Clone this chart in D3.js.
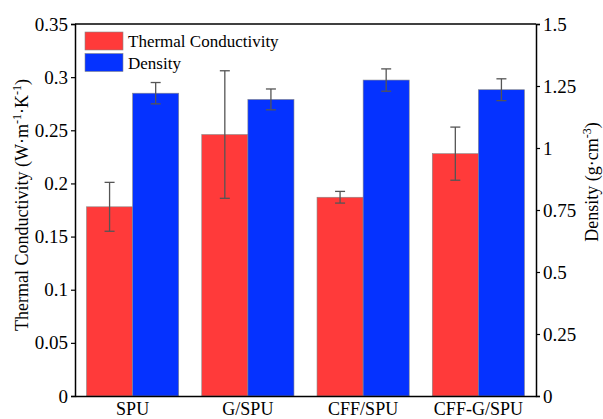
<!DOCTYPE html>
<html>
<head>
<meta charset="utf-8">
<script src="https://cdn.jsdelivr.net/npm/d3@7"></script>
<style>
  body { margin: 0; background: #fff; }
  text { font-family: "Liberation Serif", "Times New Roman", serif; fill: #000; }
</style>
</head>
<body>
<script>
// data
var categories = ["SPU", "G/SPU", "CFF/SPU", "CFF-G/SPU"];
var conductivity = [0.178, 0.246, 0.187, 0.228];
var conductivityErr = [0.023, 0.060, 0.0055, 0.025];
var density = [1.221, 1.196, 1.274, 1.235];
var densityErr = [0.043, 0.042, 0.045, 0.044];
var leftTicks = [0, 0.05, 0.1, 0.15, 0.2, 0.25, 0.3, 0.35];
var rightTicks = [0, 0.25, 0.5, 0.75, 1, 1.25, 1.5];

var red = "#ff3a3a", blue = "#0532ff";

var W = 603, H = 419;
var margin = {top: 24, right: 67, bottom: 23, left: 75},
    width = W - margin.left - margin.right,
    height = H - margin.top - margin.bottom;

var svg = d3.select("body").append("svg")
    .attr("width", W)
    .attr("height", H);

var g = svg.append("g")
    .attr("transform", "translate(" + margin.left + "," + margin.top + ")");

var x = d3.scaleBand().domain(categories).range([0, width])
    .paddingInner(0.2).paddingOuter(0.1);
var sub = d3.scaleBand().domain(["tc", "d"]).range([0, x.bandwidth()]);
var yL = d3.scaleLinear().domain([0, 0.35]).range([height, 0]);
var yR = d3.scaleLinear().domain([0, 1.5]).range([height, 0]);

var fmt = function (d) { return d3.format("")(d); };

// bars
var groups = g.selectAll(".grp")
    .data(categories)
    .enter().append("g")
    .attr("transform", function (d) { return "translate(" + x(d) + ",0)"; });

groups.append("rect")
    .attr("x", sub("tc"))
    .attr("width", sub.bandwidth())
    .attr("y", function (d, i) { return yL(conductivity[i]); })
    .attr("height", function (d, i) { return height - yL(conductivity[i]); })
    .attr("fill", red)
    .attr("stroke", "#888").attr("stroke-width", 0.6);

groups.append("rect")
    .attr("x", sub("d"))
    .attr("width", sub.bandwidth())
    .attr("y", function (d, i) { return yR(density[i]); })
    .attr("height", function (d, i) { return height - yR(density[i]); })
    .attr("fill", blue)
    .attr("stroke", "#888").attr("stroke-width", 0.6);

// error bars
function errBar(sel, key, vals, errs, y) {
    var cx = sub(key) + sub.bandwidth() / 2, cap = 5;
    sel.each(function (d, i) {
        var e = d3.select(this).append("g")
            .attr("stroke", "#555").attr("stroke-width", 1.3);
        var top = y(vals[i] + errs[i]), bot = y(vals[i] - errs[i]);
        e.append("line").attr("x1", cx).attr("x2", cx).attr("y1", top).attr("y2", bot);
        e.append("line").attr("x1", cx - cap).attr("x2", cx + cap).attr("y1", top).attr("y2", top);
        e.append("line").attr("x1", cx - cap).attr("x2", cx + cap).attr("y1", bot).attr("y2", bot);
    });
}
errBar(groups, "tc", conductivity, conductivityErr, yL);
errBar(groups, "d", density, densityErr, yR);

// axes
var left = g.append("g")
    .call(d3.axisLeft(yL).tickValues(leftTicks).tickFormat(fmt).tickSize(4).tickPadding(3));
var right = g.append("g")
    .attr("transform", "translate(" + width + ",0)")
    .call(d3.axisRight(yR).tickValues(rightTicks).tickFormat(fmt).tickSize(4).tickPadding(3));
var bottom = g.append("g")
    .attr("transform", "translate(0," + height + ")")
    .call(d3.axisBottom(x).tickSize(0).tickPadding(6));
g.append("line").attr("x1", 0).attr("x2", width).attr("y1", 0).attr("y2", 0)
    .attr("stroke", "#000").attr("stroke-width", 1.5);

[left, right, bottom].forEach(function (a) {
    a.attr("font-family", null).attr("font-size", null);
    a.selectAll("text").style("font-size", "19px").attr("fill", "#000");
    a.select(".domain").attr("stroke-width", 1.5);
    a.selectAll(".tick line").attr("stroke-width", 1.2);
});
bottom.selectAll("text").style("font-size", "18px").attr("dy", "0.72em");

// axis titles
var lt = svg.append("text")
    .attr("transform", "translate(28," + (margin.top + height / 2 - 5) + ") rotate(-90)")
    .attr("text-anchor", "middle")
    .attr("font-size", "18px");
lt.append("tspan").text("Thermal Conductivity (W·m");
lt.append("tspan").attr("dy", -7).attr("font-size", "12px").text("-1");
lt.append("tspan").attr("dy", 7).text("·K");
lt.append("tspan").attr("dy", -7).attr("font-size", "12px").text("-1");
lt.append("tspan").attr("dy", 7).text(")");

var rt = svg.append("text")
    .attr("transform", "translate(598," + (margin.top + height / 2 - 28) + ") rotate(-90)")
    .attr("text-anchor", "middle")
    .attr("font-size", "18px");
rt.append("tspan").text("Density (g·cm");
rt.append("tspan").attr("dy", -7).attr("font-size", "12px").text("-3");
rt.append("tspan").attr("dy", 7).text(")");

// legend
var legendItems = [{label: "Thermal Conductivity", color: red}, {label: "Density", color: blue}];
var legend = g.selectAll(".legend")
    .data(legendItems)
    .enter().append("g")
    .attr("transform", function (d, i) { return "translate(10," + (8 + i * 21.5) + ")"; });
legend.append("rect")
    .attr("width", 38).attr("height", 18)
    .attr("fill", function (d) { return d.color; })
    .attr("stroke", "#888").attr("stroke-width", 0.6);
legend.append("text")
    .attr("x", 43).attr("y", 15)
    .attr("font-size", "17px")
    .text(function (d) { return d.label; });
</script>
</body>
</html>
